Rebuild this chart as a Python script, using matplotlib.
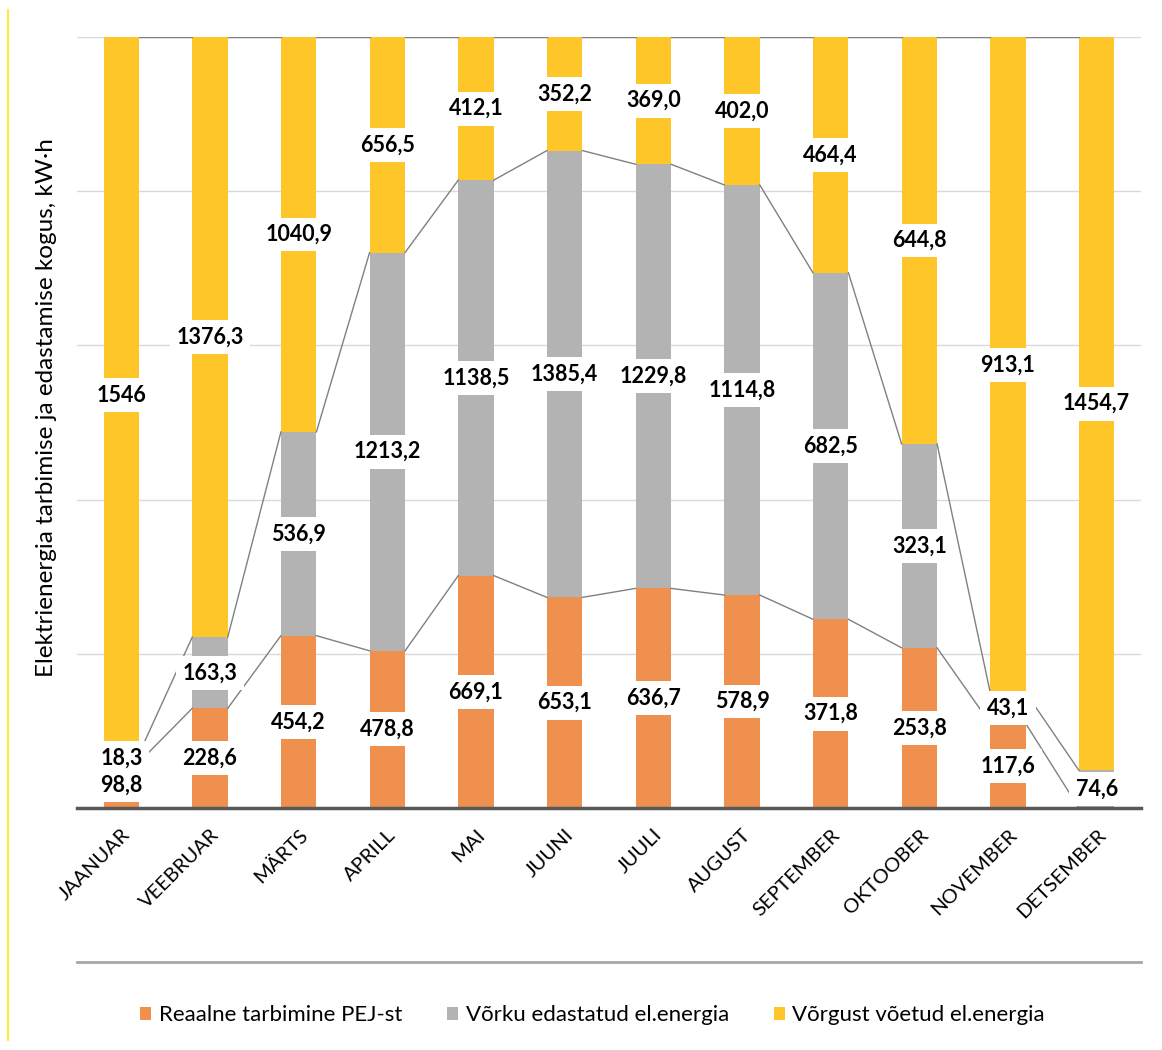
#!/usr/bin/env python3
"""Monthly electricity use / grid exchange as a 100% stacked bar chart."""
import matplotlib
matplotlib.use("Agg")
import matplotlib.pyplot as plt
from matplotlib.lines import Line2D
import numpy as np

plt.rcParams["font.family"] = ["Lato", "DejaVu Sans"]

months = ["JAANUAR", "VEEBRUAR", "MÄRTS", "APRILL", "MAI", "JUUNI", "JUULI",
          "AUGUST", "SEPTEMBER", "OKTOOBER", "NOVEMBER", "DETSEMBER"]
real_use = [98.8, 228.6, 454.2, 478.8, 669.1, 653.1, 636.7, 578.9, 371.8,
            253.8, 117.6, 0]
to_grid = [18.3, 163.3, 536.9, 1213.2, 1138.5, 1385.4, 1229.8, 1114.8, 682.5,
           323.1, 43.1, 74.6]
from_grid = [1546, 1376.3, 1040.9, 656.5, 412.1, 352.2, 369.0, 402.0, 464.4,
             644.8, 913.1, 1454.7]
series_names = ["Reaalne tarbimine PEJ-st", "Võrku edastatud el.energia",
                "Võrgust võetud el.energia"]
colors = ["#F0904F", "#B3B3B3", "#FFC629"]


def fmt(v):
    if isinstance(v, int):
        return str(v)
    return f"{v:.1f}".replace(".", ",")


def main() -> None:
    series = [real_use, to_grid, from_grid]
    vals = np.array(series, dtype=float)
    totals = vals.sum(axis=0)
    pct = vals / totals * 100

    fig = plt.figure(figsize=(11.62, 10.5), dpi=100)
    ax = fig.add_axes([77 / 1162, 1 - 808 / 1050, (1141 - 77) / 1162,
                       (808 - 37) / 1050])
    x = np.arange(len(months))
    width = 0.4

    bottom = np.zeros(len(months))
    tops = []
    for name, p, c in zip(series_names, pct, colors):
        ax.bar(x, p, width, bottom=bottom, color=c, label=name, zorder=2,
               edgecolor="none")
        bottom = bottom + p
        tops.append(bottom.copy())

    # series lines between bar edges
    for t in tops:
        for i in range(len(months) - 1):
            ax.plot([x[i] + width / 2, x[i + 1] - width / 2], [t[i], t[i + 1]],
                    color="#808080", lw=1.0, zorder=3)

    # data labels at segment centres
    bottom = np.zeros(len(months))
    for s, p in zip(series, pct):
        for i, v in enumerate(s):
            if v:
                ax.text(x[i], bottom[i] + p[i] / 2, fmt(v), ha="center",
                        va="center", fontsize=15.5, fontweight="bold",
                        zorder=5,
                        bbox=dict(boxstyle="square,pad=0.3", fc="white",
                                  ec="none"))
        bottom = bottom + p

    ax.set_xlim(-0.5, len(months) - 0.5)
    ax.set_ylim(0, 100)
    ax.set_yticks(np.arange(0, 101, 20))
    ax.set_yticklabels([])
    ax.tick_params(axis="y", length=0)
    ax.tick_params(axis="x", length=0, pad=13)
    ax.grid(axis="y", color="#D9D9D9", lw=1.0, zorder=0)
    for sp in ["top", "right", "left"]:
        ax.spines[sp].set_visible(False)
    ax.spines["bottom"].set_color("#595959")
    ax.spines["bottom"].set_linewidth(2.5)
    ax.spines["bottom"].set_zorder(4)
    ax.set_xticks(x)
    ax.set_xticklabels(months, rotation=45, ha="right", va="top",
                       rotation_mode="anchor", fontsize=14.5)

    fig.text(47 / 1162, 1 - 408 / 1050,
             "Elektrienergia tarbimise ja edastamise kogus, kW·h",
             rotation=90, ha="center", va="center", fontsize=17.5)

    fig.add_artist(Line2D([77 / 1162, 1141 / 1162], [1 - 962 / 1050] * 2,
                          color="#A6A6A6", lw=2))
    fig.add_artist(Line2D([8 / 1162, 8 / 1162], [1 - 10 / 1050, 1 - 1040 / 1050],
                          color="#FFEB3B", lw=1.5))

    handles, labels = ax.get_legend_handles_labels()
    fig.legend(handles, labels, loc="center", bbox_to_anchor=(0.51, 0.033),
               ncol=3, frameon=False, fontsize=16, handlelength=0.5,
               handleheight=0.5, handletextpad=0.35, columnspacing=2.0)

    fig.savefig("out.png", dpi=100)


if __name__ == "__main__":
    main()
